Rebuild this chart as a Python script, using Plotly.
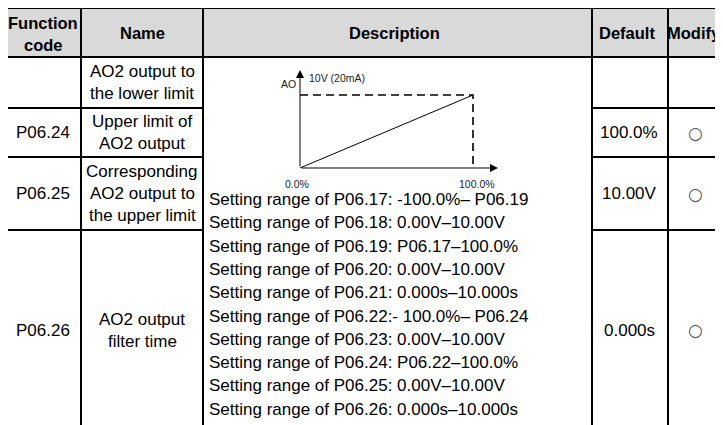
import plotly.graph_objects as go

WIN_W, WIN_H = 723, 425
OFF = 8  # page body margin: figure origin sits at page pixel (8, 8)
W, H = WIN_W - OFF, WIN_H - OFF   # figure fills the rest of the window

# ---------------- data ----------------
header_labels = [["Function", "code"], ["Name"], ["Description"], ["Default"], ["Modify"]]
codes = ["", "P06.24", "P06.25", "P06.26"]
names = [
    ["AO2 output to", "the lower limit"],
    ["Upper limit of", "AO2 output"],
    ["Corresponding", "AO2 output to", "the upper limit"],
    ["AO2 output", "filter time"],
]
defaults = ["", "100.0%", "10.00V", "0.000s"]
modify = ["", "○", "○", "○"]
desc_lines = [
    "Setting range of P06.17: -100.0%– P06.19",
    "Setting range of P06.18: 0.00V–10.00V",
    "Setting range of P06.19: P06.17–100.0%",
    "Setting range of P06.20: 0.00V–10.00V",
    "Setting range of P06.21: 0.000s–10.000s",
    "Setting range of P06.22:- 100.0%– P06.24",
    "Setting range of P06.23: 0.00V–10.00V",
    "Setting range of P06.24: P06.22–100.0%",
    "Setting range of P06.25: 0.00V–10.00V",
    "Setting range of P06.26: 0.000s–10.000s",
]
# inset AO characteristic
setting_pct = [0.0, 100.0]
ao_volt = [0.0, 10.0]
x_tick_labels = ["0.0%", "100.0%"]
y_axis_label = "AO"
y_max_label = "10V (20mA)"

# ---------------- layout geometry (page pixels) ----------------
FONT = "Liberation Sans, Arial, sans-serif"
FS = 17
FSH = 16.5
col_x = [5, 81, 203, 592, 668, 740]
top_y, head_y = 8, 57
row_edges = [57, 108, 157, 230, 430]
line_gap = 22
desc_x0, desc_y0, desc_gap = 207, 199.5, 23.3

# inset chart pixel frame
ox, oy = 300, 168          # origin
px100, py10 = 473, 95      # position of 100 % / 10 V
tipx, tipy = 498, 70       # arrow tips
xr = setting_pct[-1] * (tipx - ox) / (px100 - ox)
yr = ao_volt[-1] * (oy - tipy) / (oy - py10)

def fx(p):  # page x -> paper fraction
    return (p - OFF) / W
def fy(p):  # page y -> paper fraction
    return 1 - (p - OFF) / H

fig = go.Figure()

fig.add_trace(go.Scatter(x=[OFF, WIN_W], y=[OFF, WIN_H], mode="markers",
                         marker=dict(opacity=0), hoverinfo="skip", showlegend=False))

fig.add_trace(go.Scatter(x=setting_pct, y=ao_volt, xaxis="x2", yaxis="y2",
                         mode="lines", line=dict(color="black", width=1),
                         hoverinfo="skip", showlegend=False))
xmax, ymax = max(setting_pct), max(ao_volt)
fig.add_trace(go.Scatter(x=[setting_pct[0], xmax, xmax], y=[ymax, ymax, ao_volt[0]],
                         xaxis="x2", yaxis="y2", mode="lines",
                         line=dict(color="black", width=1.6, dash="8px,5px"),
                         hoverinfo="skip", showlegend=False))

shapes = []
shapes.append(dict(type="rect", xref="x", yref="y", x0=col_x[0], x1=WIN_W + 20, y0=top_y, y1=head_y,
                   fillcolor="#d9d9d9", line=dict(width=0), layer="below"))
LW = 2
def hline(y, x0, x1):
    shapes.append(dict(type="line", xref="x", yref="y", x0=x0, x1=x1, y0=y, y1=y,
                       line=dict(color="black", width=LW)))
def vline(x, y0, y1):
    shapes.append(dict(type="line", xref="x", yref="y", x0=x, x1=x, y0=y0, y1=y1,
                       line=dict(color="black", width=LW)))

hline(top_y, col_x[0] - 1, WIN_W + 20)
hline(head_y, col_x[0] - 1, WIN_W + 20)
for y in row_edges[1:-1]:
    hline(y, col_x[0] - 1, col_x[2])
    hline(y, col_x[3], WIN_W + 20)
for x in col_x[:5]:
    vline(x, top_y - 1, WIN_H + 20)

ann = []
def text(x, y, s, size=FS, bold=False, anchor="center", color="black", xref="x", yref="y",
         yanchor="middle", xshift=0, yshift=0, family=FONT):
    ann.append(dict(x=x, y=y, xref=xref, yref=yref, text=s, showarrow=False,
                    xanchor=anchor, yanchor=yanchor, xshift=xshift, yshift=yshift,
                    font=dict(family=family, size=size, color=color,
                              weight="bold" if bold else "normal")))

# header
header_y = [[22.5, 45], [33], [33], [33], [33]]
header_cx = [43, 142, 394, 627, 694]
for i, lines in enumerate(header_labels):
    for j, s in enumerate(lines):
        text(header_cx[i], header_y[i][j], s, size=FSH, bold=True)

# body rows
for r in range(4):
    cy = (row_edges[r] + row_edges[r + 1]) / 2
    if codes[r]:
        text((col_x[0] + col_x[1]) / 2, cy, codes[r])
    n = len(names[r])
    for j, s in enumerate(names[r]):
        text((col_x[1] + col_x[2]) / 2, cy + (j - (n - 1) / 2) * line_gap, s)
    if defaults[r]:
        text(629, cy, defaults[r])
    if modify[r]:
        text(695, cy, modify[r], size=17, color="#555555", family="DejaVu Sans")

for k, s in enumerate(desc_lines):
    text(desc_x0, desc_y0 + k * desc_gap, s, anchor="left")

# inset chart labels
CS = 10.5
text(0, 0, x_tick_labels[0], size=CS, xref="x2", yref="y2", yanchor="top", xshift=-3, yshift=-8,
     color="#222222")
text(xmax, 0, x_tick_labels[1], size=CS, xref="x2", yref="y2", yanchor="top", xshift=4, yshift=-8,
     color="#222222")
text(0, ymax, y_axis_label, size=CS, xref="x2", yref="y2", anchor="right", xshift=-2, yshift=11,
     color="#222222")
text(0, ymax, y_max_label, size=CS, xref="x2", yref="y2", anchor="left", xshift=7, yshift=17,
     color="#222222")

for (x, y) in [(xr, 0), (0, yr)]:
    ann.append(dict(x=x, y=y, ax=0, ay=0, xref="x2", yref="y2", axref="x2", ayref="y2",
                    text="", showarrow=True, arrowhead=2, arrowsize=1.6, arrowwidth=1,
                    arrowcolor="black", standoff=0, startstandoff=0))

fig.update_layout(
    width=W, height=H,
    margin=dict(l=0, r=0, t=0, b=0),
    paper_bgcolor="white", plot_bgcolor="white",
    showlegend=False,
    xaxis=dict(range=[OFF, WIN_W], visible=False, domain=[0, 1], fixedrange=True),
    yaxis=dict(range=[WIN_H, OFF], visible=False, domain=[0, 1], fixedrange=True),
    xaxis2=dict(range=[0, xr], domain=[fx(ox), fx(tipx)], anchor="y2", visible=False,
                fixedrange=True),
    yaxis2=dict(range=[0, yr], domain=[fy(oy), fy(tipy)], anchor="x2", visible=False,
                fixedrange=True),
    shapes=shapes,
    annotations=ann,
)

fig.write_html("out.html")
